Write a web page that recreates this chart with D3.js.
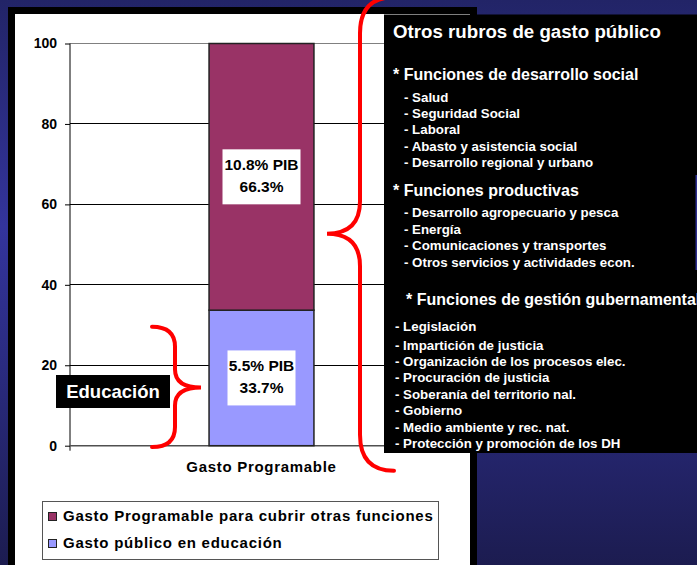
<!DOCTYPE html>
<html>
<head>
<meta charset="utf-8">
<script src="https://cdn.jsdelivr.net/npm/d3@7"></script>
<style>
  html, body { margin: 0; padding: 0; background: #23256a; }
  svg { display: block; }
  text { font-family: "Liberation Sans", Arial, Helvetica, sans-serif; font-weight: bold; }
</style>
</head>
<body>
<svg id="chart" width="697" height="565"></svg>
<script>
// ---------- DATA ----------
const categories = ["Gasto Programable"];
const seriesNames = ["Gasto público en educación", "Gasto Programable para cubrir otras funciones"];
const educacion = [33.7];
const otrasFunciones = [66.3];
const pibEducacion = ["5.5% PIB"];
const pibOtras = ["10.8% PIB"];
const yTicks = [0, 20, 40, 60, 80, 100];
const seriesColors = ["#9999ff", "#993366"];

const boxTitle = "Otros rubros de gasto público";
const groupHeads = ["* Funciones de desarrollo social", "* Funciones productivas", "* Funciones de gestión gubernamental"];
const groupSocial = ["- Salud", "- Seguridad Social", "- Laboral", "- Abasto y asistencia social", "- Desarrollo regional y urbano"];
const groupProductivas = ["- Desarrollo agropecuario y pesca", "- Energía", "- Comunicaciones y transportes", "- Otros servicios y actividades econ."];
const groupGestion = ["- Legislación", "- Impartición de justicia", "- Organización de los procesos elec.", "- Procuración de justicia", "- Soberanía del territorio nal.", "- Gobierno", "- Medio ambiente y rec. nat.", "- Protección y promoción de los DH"];
const eduLabel = "Educación";

// ---------- SETUP ----------
const svg = d3.select("#chart");
const W = 697, H = 565;

const defs = svg.append("defs");
const grad = defs.append("linearGradient").attr("id", "bg").attr("x1", 0).attr("y1", 0).attr("x2", 0).attr("y2", 1);
[[0, "#222467"], [0.4, "#33349c"], [0.65, "#2a2b80"], [1, "#1c1c50"]].forEach(([o, c]) =>
  grad.append("stop").attr("offset", o).attr("stop-color", c));

svg.append("rect").attr("width", W).attr("height", H).attr("fill", "url(#bg)");

// white panel with black frame
svg.append("rect").attr("x", 8).attr("y", 7).attr("width", 469).attr("height", 570).attr("fill", "#000");
svg.append("rect").attr("x", 15).attr("y", 14).attr("width", 455).attr("height", 570).attr("fill", "#fff");

// ---------- SCALES ----------
const plot = { left: 70, right: 453, top: 43.5, bottom: 445.7 };
const y = d3.scaleLinear().domain([0, 100]).range([plot.bottom, plot.top]);
const x = d3.scaleBand().domain(categories).range([plot.left, plot.right]).padding(0.57);

const g = svg.append("g");

// gridlines
g.selectAll("line.grid").data(yTicks.filter(t => t > 0)).join("line")
  .attr("x1", plot.left).attr("x2", plot.right)
  .attr("y1", d => y(d)).attr("y2", d => y(d))
  .attr("stroke", d => d === 100 ? "#808080" : "#000").attr("stroke-width", 1)
  .attr("shape-rendering", "crispEdges");

// y axis
const yAxis = d3.axisLeft(y).tickValues(yTicks).tickSize(5).tickPadding(8);
const yA = g.append("g").attr("transform", `translate(${plot.left},0)`).call(yAxis);
yA.select(".domain").attr("stroke", "#000").attr("d", `M0,${plot.top}V${plot.bottom + 5}`);
yA.selectAll(".tick line").attr("stroke", "#000");
yA.selectAll(".tick text").attr("font-size", 14).attr("fill", "#000")
  .attr("font-family", "'Liberation Sans', Arial, sans-serif").attr("font-weight", "bold");

// x axis
const xAxis = d3.axisBottom(x).tickSize(0).tickPadding(16);
const xA = g.append("g").attr("transform", `translate(0,${plot.bottom})`).call(xAxis);
xA.select(".domain").attr("stroke", "#505050").attr("stroke-width", 1.5).attr("d", `M${plot.left},0H${plot.right}`);
xA.selectAll(".tick text").attr("font-size", 15).attr("fill", "#000").attr("letter-spacing", "0.7px")
  .attr("font-family", "'Liberation Sans', Arial, sans-serif").attr("font-weight", "bold");

// stacked bars
const rows = categories.map((c, i) => ({ cat: c, edu: educacion[i], otras: otrasFunciones[i] }));
const stack = d3.stack().keys(["edu", "otras"])(rows);
stack.forEach((layer, li) => {
  g.selectAll(null).data(layer).join("rect")
    .attr("x", d => x(d.data.cat))
    .attr("width", x.bandwidth())
    .attr("y", d => y(d[1]))
    .attr("height", d => y(d[0]) - y(d[1]))
    .attr("fill", seriesColors[li])
    .attr("stroke", "#222")
    .attr("stroke-width", 1.5);
});

// bar labels (white boxes)
const labelSets = [
  { layer: stack[0], pib: pibEducacion, boxW: 68 },
  { layer: stack[1], pib: pibOtras, boxW: 78 }
];
labelSets.forEach(({ layer, pib, boxW }) => {
  layer.forEach((d, i) => {
    const cx = x(d.data.cat) + x.bandwidth() / 2;
    const cy = y((d[0] + d[1]) / 2);
    const pct = (d[1] - d[0]).toFixed(1) + "%";
    g.append("rect").attr("x", cx - boxW / 2).attr("y", cy - 27.5).attr("width", boxW).attr("height", 55).attr("fill", "#fff");
    g.append("text").attr("x", cx).attr("y", cy - 7).attr("text-anchor", "middle").attr("font-size", 15.5).attr("fill", "#000").text(pib[i]);
    g.append("text").attr("x", cx).attr("y", cy + 15).attr("text-anchor", "middle").attr("font-size", 15.5).attr("fill", "#000").text(pct);
  });
});

// ---------- LEGEND ----------
const legend = svg.append("g");
legend.append("rect").attr("x", 42.5).attr("y", 501.5).attr("width", 396).attr("height", 58)
  .attr("fill", "#fff").attr("stroke", "#555").attr("stroke-width", 1);
const legendItems = [1, 0];
legendItems.forEach((si, row) => {
  const by = 521 + row * 27;
  legend.append("rect").attr("x", 48.5).attr("y", by - 8.5).attr("width", 8).attr("height", 8)
    .attr("fill", seriesColors[si]).attr("stroke", "#222").attr("stroke-width", 1);
  legend.append("text").attr("x", 63).attr("y", by).attr("font-size", 15).attr("letter-spacing", "0.75px")
    .attr("fill", "#000").text(seriesNames[si]);
});

// ---------- BLACK INFO BOX ----------
const box = svg.append("g");
box.append("rect").attr("x", 384).attr("y", 14.5).attr("width", 320).attr("height", 438.5).attr("fill", "#000");
box.append("rect").attr("x", 695.5).attr("y", 175).attr("width", 1.5).attr("height", 95).attr("fill", "#2d2e90");
box.append("text").attr("x", 393).attr("y", 38).attr("font-size", 18.7).attr("fill", "#fff").text(boxTitle);
box.append("text").attr("x", 393).attr("y", 80).attr("font-size", 16).attr("fill", "#fff").text(groupHeads[0]);
box.selectAll(null).data(groupSocial).join("text")
  .attr("x", 404).attr("y", (d, i) => 102 + i * 16.2).attr("font-size", 13.3).attr("fill", "#fff").text(d => d);
box.append("text").attr("x", 393).attr("y", 196).attr("font-size", 16).attr("fill", "#fff").text(groupHeads[1]);
box.selectAll(null).data(groupProductivas).join("text")
  .attr("x", 404).attr("y", (d, i) => 217 + i * 16.7).attr("font-size", 13.3).attr("fill", "#fff").text(d => d);
box.append("text").attr("x", 406).attr("y", 304.5).attr("font-size", 16).attr("fill", "#fff").text(groupHeads[2]);
box.selectAll(null).data(groupGestion).join("text")
  .attr("x", 395).attr("y", (d, i) => i === 0 ? 331 : 349.5 + (i - 1) * 16.4).attr("font-size", 13.3).attr("fill", "#fff").text(d => d);

// ---------- EDUCACIÓN LABEL ----------
svg.append("rect").attr("x", 56).attr("y", 375).attr("width", 114).attr("height", 33).attr("fill", "#000");
svg.append("text").attr("x", 113).attr("y", 397.5).attr("text-anchor", "middle").attr("font-size", 18.5).attr("fill", "#fff").text(eduLabel);

// ---------- BRACES ----------
function brace(xEnd, xStem, xTip, yTop, yMid, yBot, r) {
  return `M${xEnd},${yTop} Q${xStem},${yTop} ${xStem},${yTop + r}` +
         ` L${xStem},${yMid - r * 0.9} Q${xStem},${yMid} ${xTip},${yMid}` +
         ` Q${xStem},${yMid} ${xStem},${yMid + r * 0.9}` +
         ` L${xStem},${yBot - r} Q${xStem},${yBot} ${xEnd},${yBot}`;
}
// education brace (spans the education segment)
svg.append("path")
  .attr("d", brace(152, 175, 201, y(29.6), y(14.5), y(-0.3), 20))
  .attr("fill", "none").attr("stroke", "#ff0000").attr("stroke-width", 4).attr("stroke-linecap", "round");
// big brace (other functions)
svg.append("path")
  .attr("d", brace(394, 360, 327, y(111.5), y(52.7), y(-6.2), 36))
  .attr("fill", "none").attr("stroke", "#ff0000").attr("stroke-width", 4).attr("stroke-linecap", "round");
</script>
</body>
</html>
